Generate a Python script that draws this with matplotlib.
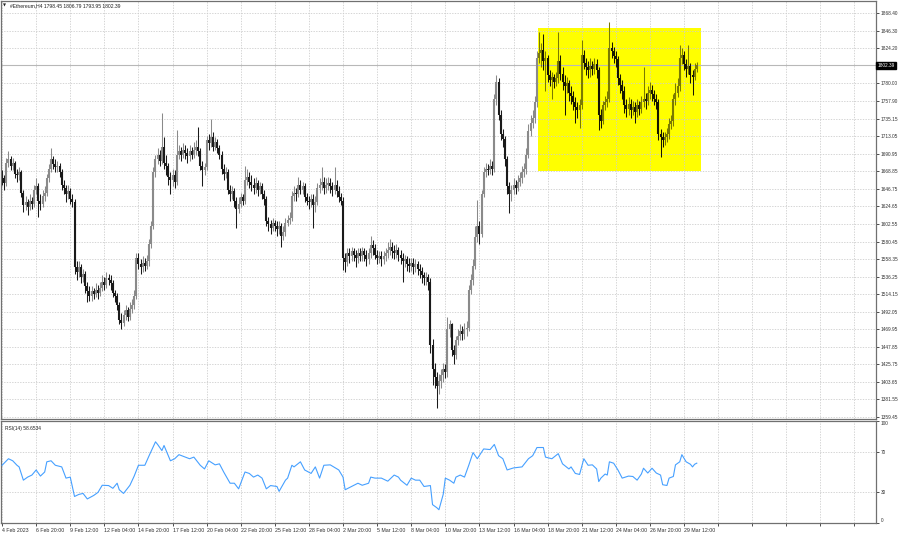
import matplotlib
matplotlib.use("Agg")
import matplotlib.pyplot as plt
import matplotlib.transforms as mtransforms
from matplotlib.patches import Rectangle

# ---------------- data ----------------
title_text = "#Ethereum,H4 1798.45 1806.79 1793.95 1802.39"
rsi_title = "RSI(14) 58.6534"
last_price = 1802.39

open_ = [
    1665, 1660, 1654, 1680, 1684, 1676, 1679, 1666, 1664, 1668,
    1642, 1626, 1630, 1624, 1632, 1628, 1646, 1650, 1632, 1628,
    1638, 1642, 1660, 1672, 1684, 1678, 1674, 1676, 1668, 1652,
    1648, 1640, 1644, 1634, 1630, 1548, 1542, 1548, 1536, 1540,
    1524, 1518, 1512, 1518, 1514, 1520, 1516, 1522, 1530, 1526,
    1534, 1532, 1528, 1516, 1512, 1500, 1482, 1478, 1488, 1494,
    1486, 1496, 1500, 1512, 1560, 1552, 1548, 1554, 1550, 1556,
    1578, 1600, 1668, 1684, 1690, 1682, 1700, 1680, 1676, 1662,
    1658, 1664, 1656, 1690, 1694, 1690, 1696, 1692, 1688, 1694,
    1690, 1696, 1700, 1694, 1676, 1670, 1674, 1708, 1704, 1712,
    1700, 1706, 1698, 1690, 1672, 1666, 1668, 1646, 1640, 1644,
    1632, 1622, 1628, 1636, 1632, 1658, 1662, 1656, 1652, 1648,
    1654, 1646, 1650, 1640, 1634, 1606, 1602, 1598, 1604, 1600,
    1596, 1600, 1588, 1592, 1604, 1608, 1610, 1638, 1642, 1640,
    1652, 1646, 1650, 1636, 1632, 1630, 1634, 1626, 1630, 1648,
    1652, 1656, 1648, 1652, 1654, 1650, 1646, 1652, 1644, 1636,
    1632, 1560, 1555, 1566, 1562, 1568, 1564, 1560, 1566, 1562,
    1568, 1564, 1558, 1566, 1576, 1572, 1564, 1560, 1562, 1558,
    1562, 1566, 1570, 1574, 1568, 1566, 1570, 1564, 1560, 1556,
    1558, 1552, 1550, 1554, 1548, 1552, 1546, 1544, 1538, 1534,
    1536, 1530, 1450, 1420, 1410, 1398, 1405, 1412, 1420, 1416,
    1470, 1476, 1444, 1438, 1456, 1462, 1468, 1464, 1470, 1472,
    1520, 1532, 1550, 1586, 1600, 1590, 1640, 1668, 1672, 1670,
    1676, 1672, 1760, 1782, 1740, 1716, 1710, 1684, 1650, 1640,
    1646, 1652, 1648, 1656, 1660, 1668, 1672, 1690, 1720, 1730,
    1736, 1756, 1812, 1818, 1822, 1808, 1812, 1790, 1784, 1788,
    1782, 1786, 1808, 1792, 1782, 1776, 1780, 1768, 1764, 1756,
    1750, 1746, 1752, 1816, 1806, 1800, 1796, 1802, 1798, 1804,
    1796, 1740, 1732, 1752, 1756, 1760, 1824, 1820, 1814, 1810,
    1786, 1778, 1770, 1752, 1748, 1754, 1746, 1750, 1744, 1752,
    1748, 1756, 1760, 1758, 1768, 1772, 1766, 1760, 1756, 1716,
    1712, 1708, 1712, 1716, 1728, 1732, 1760, 1768, 1776, 1812,
    1816, 1804, 1798, 1802, 1790, 1788, 1798.45,
]
high = [
    1670, 1664, 1686, 1695, 1688, 1686, 1682, 1672, 1674, 1670,
    1646, 1638, 1634, 1640, 1636, 1652, 1660, 1654, 1640, 1646,
    1650, 1666, 1678, 1698, 1688, 1684, 1682, 1680, 1672, 1658,
    1652, 1652, 1648, 1640, 1634, 1556, 1556, 1552, 1546, 1544,
    1530, 1524, 1524, 1522, 1528, 1526, 1530, 1538, 1536, 1542,
    1540, 1538, 1532, 1520, 1516, 1504, 1490, 1494, 1500, 1498,
    1504, 1508, 1520, 1566, 1566, 1558, 1562, 1560, 1564, 1584,
    1606, 1674, 1690, 1698, 1696, 1742, 1712, 1690, 1680, 1668,
    1672, 1670, 1721, 1702, 1700, 1704, 1702, 1698, 1702, 1700,
    1706, 1708, 1725, 1698, 1682, 1680, 1714, 1716, 1735, 1718,
    1712, 1710, 1702, 1694, 1678, 1674, 1672, 1652, 1650, 1648,
    1636, 1636, 1642, 1640, 1676, 1672, 1668, 1664, 1660, 1662,
    1658, 1656, 1654, 1646, 1638, 1612, 1608, 1610, 1608, 1606,
    1606, 1604, 1600, 1610, 1614, 1618, 1644, 1650, 1648, 1662,
    1658, 1656, 1654, 1642, 1638, 1640, 1640, 1638, 1654, 1660,
    1674, 1662, 1660, 1662, 1660, 1656, 1675, 1658, 1650, 1642,
    1636, 1566, 1572, 1572, 1574, 1572, 1570, 1572, 1572, 1574,
    1572, 1570, 1572, 1588, 1582, 1578, 1570, 1568, 1568, 1568,
    1572, 1580, 1584, 1580, 1576, 1578, 1574, 1570, 1566, 1564,
    1562, 1560, 1560, 1560, 1558, 1556, 1552, 1548, 1542, 1542,
    1540, 1534, 1458, 1428, 1416, 1414, 1420, 1428, 1426, 1485,
    1482, 1478, 1450, 1462, 1470, 1476, 1474, 1478, 1480, 1526,
    1540, 1558, 1600, 1633, 1606, 1646, 1674, 1680, 1678, 1684,
    1682, 1766, 1790, 1786, 1746, 1722, 1714, 1688, 1656, 1652,
    1660, 1658, 1664, 1668, 1676, 1680, 1698, 1728, 1740, 1746,
    1764, 1820, 1845, 1830, 1842, 1820, 1816, 1796, 1794, 1792,
    1794, 1844, 1816, 1800, 1790, 1788, 1784, 1776, 1770, 1762,
    1756, 1760, 1834, 1822, 1812, 1808, 1812, 1808, 1812, 1810,
    1800, 1748, 1758, 1764, 1770, 1857, 1832, 1826, 1820, 1814,
    1792, 1784, 1776, 1760, 1762, 1760, 1758, 1756, 1760, 1758,
    1764, 1800, 1768, 1776, 1782, 1778, 1772, 1766, 1760, 1722,
    1718, 1718, 1724, 1736, 1740, 1766, 1780, 1786, 1828, 1824,
    1820, 1810, 1828, 1806, 1796, 1806, 1806.79,
]
low = [
    1652, 1646, 1650, 1674, 1670, 1670, 1660, 1656, 1658, 1636,
    1618, 1620, 1614, 1620, 1622, 1624, 1640, 1612, 1620, 1624,
    1632, 1638, 1656, 1668, 1672, 1668, 1668, 1662, 1646, 1640,
    1630, 1634, 1628, 1624, 1540, 1532, 1536, 1528, 1530, 1516,
    1504, 1506, 1506, 1508, 1510, 1508, 1512, 1518, 1520, 1522,
    1526, 1520, 1510, 1504, 1494, 1476, 1470, 1474, 1482, 1480,
    1482, 1490, 1496, 1508, 1546, 1540, 1542, 1544, 1546, 1550,
    1572, 1596, 1662, 1678, 1676, 1678, 1672, 1664, 1652, 1640,
    1650, 1648, 1652, 1684, 1682, 1686, 1684, 1680, 1682, 1684,
    1686, 1690, 1688, 1670, 1650, 1664, 1670, 1696, 1700, 1694,
    1696, 1692, 1684, 1666, 1658, 1660, 1640, 1632, 1634, 1624,
    1597, 1616, 1624, 1626, 1628, 1652, 1648, 1644, 1640, 1642,
    1638, 1640, 1634, 1626, 1600, 1594, 1590, 1594, 1594, 1588,
    1590, 1573, 1582, 1588, 1600, 1602, 1606, 1632, 1632, 1636,
    1640, 1640, 1630, 1626, 1622, 1624, 1597, 1618, 1626, 1642,
    1646, 1640, 1642, 1646, 1642, 1638, 1640, 1636, 1630, 1626,
    1545, 1542, 1550, 1554, 1556, 1556, 1548, 1554, 1556, 1556,
    1556, 1550, 1552, 1560, 1564, 1558, 1552, 1554, 1550, 1552,
    1556, 1560, 1564, 1560, 1558, 1560, 1556, 1552, 1530, 1548,
    1544, 1542, 1544, 1540, 1542, 1538, 1534, 1528, 1526, 1526,
    1520, 1440, 1400, 1396, 1371, 1388, 1396, 1404, 1408, 1410,
    1460, 1436, 1426, 1432, 1450, 1456, 1456, 1458, 1462, 1468,
    1514, 1526, 1546, 1580, 1578, 1586, 1636, 1662, 1664, 1666,
    1664, 1668, 1752, 1734, 1708, 1700, 1676, 1640, 1616, 1632,
    1640, 1640, 1644, 1650, 1654, 1662, 1666, 1686, 1714, 1724,
    1730, 1750, 1806, 1800, 1796, 1770, 1782, 1776, 1760, 1774,
    1776, 1780, 1784, 1772, 1740, 1768, 1758, 1754, 1746, 1730,
    1736, 1724, 1748, 1798, 1790, 1786, 1788, 1790, 1792, 1786,
    1721, 1724, 1728, 1746, 1750, 1756, 1812, 1806, 1800, 1778,
    1768, 1760, 1742, 1738, 1740, 1736, 1740, 1730, 1738, 1740,
    1742, 1750, 1748, 1752, 1760, 1758, 1752, 1748, 1708, 1687,
    1700, 1702, 1706, 1710, 1722, 1726, 1752, 1762, 1770, 1804,
    1796, 1788, 1792, 1780, 1765, 1784, 1793.95,
]
close = [
    1660, 1654, 1680, 1684, 1676, 1679, 1666, 1664, 1668, 1642,
    1626, 1630, 1624, 1632, 1628, 1646, 1650, 1632, 1628, 1638,
    1642, 1660, 1672, 1684, 1678, 1674, 1676, 1668, 1652, 1648,
    1640, 1644, 1634, 1630, 1548, 1542, 1548, 1536, 1540, 1524,
    1518, 1512, 1518, 1514, 1520, 1516, 1522, 1530, 1526, 1534,
    1532, 1528, 1516, 1512, 1500, 1482, 1478, 1488, 1494, 1486,
    1496, 1500, 1512, 1560, 1552, 1548, 1554, 1550, 1556, 1578,
    1600, 1668, 1684, 1690, 1682, 1700, 1680, 1676, 1662, 1658,
    1664, 1656, 1690, 1694, 1690, 1696, 1692, 1688, 1694, 1690,
    1696, 1700, 1694, 1676, 1670, 1674, 1708, 1704, 1712, 1700,
    1706, 1698, 1690, 1672, 1666, 1668, 1646, 1640, 1644, 1632,
    1622, 1628, 1636, 1632, 1658, 1662, 1656, 1652, 1648, 1654,
    1646, 1650, 1640, 1634, 1606, 1602, 1598, 1604, 1600, 1596,
    1600, 1588, 1592, 1604, 1608, 1610, 1638, 1642, 1640, 1652,
    1646, 1650, 1636, 1632, 1630, 1634, 1626, 1630, 1648, 1652,
    1656, 1648, 1652, 1654, 1650, 1646, 1652, 1644, 1636, 1632,
    1560, 1555, 1566, 1562, 1568, 1564, 1560, 1566, 1562, 1568,
    1564, 1558, 1566, 1576, 1572, 1564, 1560, 1562, 1558, 1562,
    1566, 1570, 1574, 1568, 1566, 1570, 1564, 1560, 1556, 1558,
    1552, 1550, 1554, 1548, 1552, 1546, 1544, 1538, 1534, 1536,
    1530, 1450, 1420, 1410, 1398, 1405, 1412, 1420, 1416, 1470,
    1476, 1444, 1438, 1456, 1462, 1468, 1464, 1470, 1472, 1520,
    1532, 1550, 1586, 1600, 1590, 1640, 1668, 1672, 1670, 1676,
    1672, 1760, 1782, 1740, 1716, 1710, 1684, 1650, 1640, 1646,
    1652, 1648, 1656, 1660, 1668, 1672, 1690, 1720, 1730, 1736,
    1756, 1812, 1818, 1822, 1808, 1812, 1790, 1784, 1788, 1782,
    1786, 1808, 1792, 1782, 1776, 1780, 1768, 1764, 1756, 1750,
    1746, 1752, 1816, 1806, 1800, 1796, 1802, 1798, 1804, 1796,
    1740, 1732, 1752, 1756, 1760, 1824, 1820, 1814, 1810, 1786,
    1778, 1770, 1752, 1748, 1754, 1746, 1750, 1744, 1752, 1748,
    1756, 1760, 1758, 1768, 1772, 1766, 1760, 1756, 1716, 1712,
    1708, 1712, 1716, 1728, 1732, 1760, 1768, 1776, 1812, 1816,
    1804, 1798, 1802, 1790, 1788, 1798.45, 1802.39,
]

rsi_bar = [
    0, 3, 5, 7, 8, 10, 12, 14, 16, 18, 20, 21, 23, 25, 28, 30, 32, 34, 36, 38,
    40, 43, 45, 47, 50, 52, 54, 55, 57, 60, 62, 64, 67, 69, 72, 73, 75, 76, 79, 81,
    83, 86, 88, 90, 93, 95, 97, 100, 102, 104, 107, 109, 111, 114, 116, 118, 120, 122, 124, 126,
    129, 130, 133, 134, 136, 137, 140, 142, 145, 147, 149, 151, 154, 158, 160, 161, 164, 167, 169, 172,
    173, 175, 178, 181, 184, 186, 187, 190, 192, 194, 196, 198, 201, 202, 204, 205, 207, 208, 210, 212,
    213, 215, 217, 219, 221, 223, 226, 229, 231, 233, 235, 237, 240, 244, 247, 249, 251, 254, 255, 258,
    261, 263, 266, 267, 269, 271, 273, 275, 277, 279, 280, 281, 283, 284, 285, 287, 289, 291, 294, 296,
    298, 300, 301, 303, 305, 307, 309, 310, 312, 313, 315, 316, 318, 319, 321, 323, 324, 325, 326,
]
rsi_val = [
    56.6, 63, 61, 56.6, 55, 42, 45, 47, 52, 46, 50, 60, 61, 56.6, 55, 44, 45, 26, 28, 29,
    23.6, 27, 30, 37, 36.7, 34, 39, 32.6, 29, 37, 46, 56.6, 56.6, 66, 79.6, 77, 71, 76, 61, 63,
    67, 64.6, 63, 64.6, 56.6, 53, 61, 57, 58, 50, 39, 39, 33.5, 50, 48.6, 45, 47, 44, 33.5, 36.7,
    35.8, 31, 42, 44, 56.6, 55, 60, 52, 48.6, 55, 44, 56.6, 57, 52, 45, 32.6, 35.8, 39, 37, 39,
    45, 44, 44, 41, 47, 45, 42, 37, 44, 42, 42, 35.8, 36.7, 18, 15, 13, 28, 44, 42, 39,
    45, 47, 45, 56.6, 69, 63, 72.6, 72, 77, 66, 63, 52, 54, 55, 63, 66, 74, 74, 64.6, 63,
    68, 58, 53, 55, 48.6, 47.6, 63, 56.6, 57, 53, 40.6, 44, 48, 47, 60, 58.6, 52, 44, 46, 45.6,
    42, 48, 53.7, 49, 53.7, 49, 47, 37.5, 36.8, 44, 45.6, 57, 60, 67, 60, 57.6, 55, 57.6, 58.65,
]

date_labels = [
    "4 Feb 2023", "6 Feb 20:00", "9 Feb 12:00", "12 Feb 04:00", "14 Feb 20:00",
    "17 Feb 12:00", "20 Feb 04:00", "22 Feb 20:00", "25 Feb 12:00", "28 Feb 04:00",
    "2 Mar 20:00", "5 Mar 12:00", "8 Mar 04:00", "10 Mar 20:00", "13 Mar 12:00",
    "16 Mar 04:00", "18 Mar 20:00", "21 Mar 12:00", "24 Mar 04:00", "26 Mar 20:00",
    "29 Mar 12:00",
]
price_ticks = [
    1868.40, 1846.30, 1824.20, 1780.00, 1757.90, 1735.15, 1713.05, 1690.95,
    1668.85, 1646.75, 1624.65, 1602.55, 1580.45, 1558.35, 1536.25, 1514.15,
    1492.05, 1469.95, 1447.85, 1425.75, 1403.65, 1381.55, 1359.45,
]
rsi_ticks = [100, 70, 30, 0]
rsi_levels = [70, 30]

# highlighted zone (bars / prices)
zone_bars = (251.5, 328.0)
zone_prices = (1669.4, 1849.5)

# ---------------- figure ----------------
W, H = 900, 535
fig = plt.figure(figsize=(W / 100, H / 100), dpi=100)
fig.patch.set_facecolor("white")
plt.rcParams["font.family"] = ["Liberation Sans", "DejaVu Sans"]


def fy(py):
    return 1 - py / H


ax = fig.add_axes([1 / W, fy(419), 875 / W, fy(1) - fy(419)])
ax2 = fig.add_axes([1 / W, fy(523), 875 / W, fy(421) - fy(523)])

n = len(close)
xs = list(range(n))
x_max = 410.1
grid_x = list(range(0, 411, 16))
grid_kw = dict(color="#cdcdcd", lw=0.6, dashes=(1.6, 1.6), zorder=1)

for a in (ax, ax2):
    a.set_xlim(-0.5, x_max)
    a.set_facecolor("white")
    for s in a.spines.values():
        s.set_color("#707070")
        s.set_linewidth(0.9)
    for gx in grid_x:
        a.axvline(gx, **grid_kw)

# ---- price panel ----
ax.set_ylim(1356.92, 1883.52)
for p in price_ticks:
    ax.axhline(p, **grid_kw)

ax.add_patch(Rectangle((zone_bars[0], zone_prices[0]),
                       zone_bars[1] - zone_bars[0], zone_prices[1] - zone_prices[0],
                       facecolor="#ffff00", edgecolor="none", zorder=0.5))
ax.axhline(last_price, color="#b8b8b8", lw=0.8, zorder=1.2)

bar_cols, b_lo, b_hi = [], [], []
for i in xs:
    bull = close[i] >= open_[i]
    inside = zone_bars[0] <= i <= zone_bars[1]
    if inside:
        c = "#7a7a00" if bull else "#151500"
    else:
        c = "#8a8a8a" if bull else "#1a1a1a"
    bar_cols.append(c)
    b_lo.append(min(open_[i], close[i]))
    b_hi.append(max(open_[i], close[i]))

ax.vlines(xs, low, high, colors=bar_cols, lw=0.75, zorder=2)
ax.vlines(xs, b_lo, b_hi, colors=bar_cols, lw=1.5, zorder=2.1)

ax.yaxis.tick_right()
ax.set_yticks(price_ticks)
ax.set_yticklabels([f"{p:.2f}" for p in price_ticks])
ax.tick_params(axis="y", right=True, length=2, width=0.6, colors="#303030",
               labelsize=3.4, pad=1.5)
ax.set_xticks(grid_x)
ax.tick_params(axis="x", bottom=False, labelbottom=False)

trans = mtransforms.blended_transform_factory(ax.transAxes, ax.transData)
ax.text(1.0015, last_price, "1802.39", transform=trans, fontsize=3.4, color="white",
        va="center", ha="left",
        bbox=dict(facecolor="black", edgecolor="black", pad=0.9), zorder=5, clip_on=False)

fig.text(3 / W, fy(5.5), "\u25bc", fontsize=2.8, va="center", ha="left",
         color="#202020", family="DejaVu Sans")
fig.text(10 / W, fy(5.5), title_text, fontsize=3.6, va="center", ha="left", color="#202020")

# ---- RSI panel ----
ax2.set_ylim(0, 100)
for lv in rsi_levels:
    ax2.axhline(lv, **grid_kw)
ax2.plot(rsi_bar, rsi_val, color="#46a0ff", lw=0.8, zorder=3)
ax2.yaxis.tick_right()
ax2.set_yticks(rsi_ticks)
ax2.set_yticklabels([str(t) for t in rsi_ticks])
ax2.tick_params(axis="y", right=True, length=2, width=0.6, colors="#303030",
                labelsize=3.4, pad=1.5)
ylabs = ax2.get_yticklabels()
ylabs[0].set_va("top")
ylabs[-1].set_va("bottom")

ax2.set_xticks(grid_x)
ax2.set_xticklabels(date_labels + [""] * (len(grid_x) - len(date_labels)))
ax2.tick_params(axis="x", bottom=True, length=2, width=0.6, colors="#303030",
                labelsize=3.8, pad=1.5)
for t in ax2.get_xticklabels():
    t.set_ha("left")

ax2.text(4 / 875, 0.955, rsi_title, transform=ax2.transAxes, fontsize=3.5,
         va="top", ha="left", color="#202020")

fig.savefig("out.png", dpi=100, facecolor="white")
